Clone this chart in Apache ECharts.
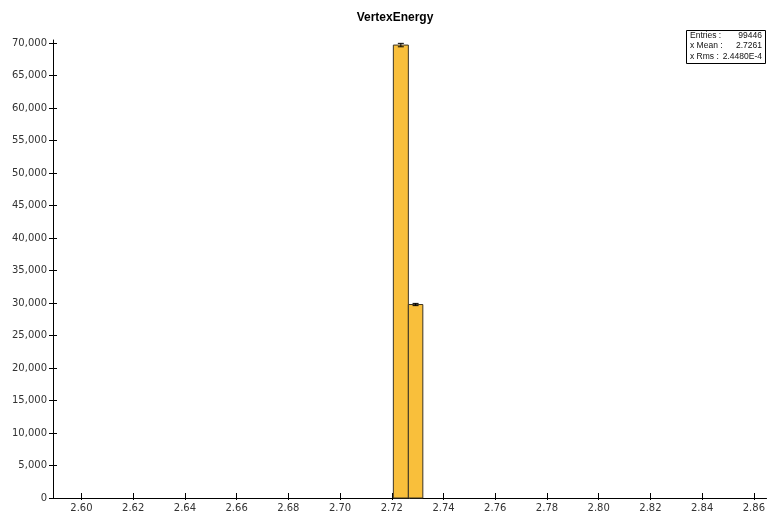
<!DOCTYPE html>
<html><head><meta charset="utf-8">
<script src="https://cdn.jsdelivr.net/npm/echarts@6/dist/echarts.min.js"></script>
<style>html,body{margin:0;padding:0;background:#fff}#c{width:768px;height:519px}</style>
</head><body><div id="c"></div>
<script>
const title = 'VertexEnergy';
const binLow = [2.7206, 2.7264];
const binHigh = [2.7264, 2.7320];
const counts = [69680, 29766];
const xTicks = [2.60, 2.62, 2.64, 2.66, 2.68, 2.70, 2.72, 2.74, 2.76, 2.78, 2.80, 2.82, 2.84, 2.86];
const yTicks = [0, 5000, 10000, 15000, 20000, 25000, 30000, 35000, 40000, 45000, 50000, 55000, 60000, 65000, 70000];
const statsLabels = ['Entries :', 'x Mean :', 'x Rms :'];
const statsValues = ['99446', '2.7261', '2.4480E-4'];

const barData = counts.map((c, i) => [binLow[i], binHigh[i], c]);
const chart = echarts.init(document.getElementById('c'));
const FONT = 'DejaVu Sans';
const yFmt = v => v.toLocaleString('en-US');
const XMIN = 2.5890, XMAX = 2.8649, YMAX = 70460;
chart.setOption({
  animation: false,
  title: { text: title, left: 390, textAlign: 'center', top: 7,
    textStyle: { fontFamily: 'Liberation Sans', fontWeight: 'bold', fontSize: 12, color: '#000' } },
  grid: { left: 53, right: 1, top: 40, bottom: 21 },
  xAxis: [{
    type: 'value', min: XMIN, max: XMAX,
    axisLine: { lineStyle: { color: '#000', width: 1 } },
    axisTick: { inside: true, length: 5, customValues: xTicks, lineStyle: { color: '#000' } },
    axisLabel: { customValues: xTicks, formatter: v => v.toFixed(2), fontFamily: FONT, fontSize: 10, color: '#333', margin: 5 },
    splitLine: { show: false }
  }, {
    type: 'value', min: XMIN, max: XMAX, position: 'bottom',
    axisLine: { show: false },
    axisTick: { show: true, inside: false, length: 2, customValues: xTicks, lineStyle: { color: '#000' } },
    axisLabel: { show: false },
    splitLine: { show: false }
  }],
  yAxis: [{
    type: 'value', min: 0, max: YMAX,
    axisLine: { show: true, lineStyle: { color: '#000', width: 1 } },
    axisTick: { show: true, inside: false, length: 4, customValues: yTicks, lineStyle: { color: '#000' } },
    axisLabel: { customValues: yTicks, formatter: yFmt, fontFamily: FONT, fontSize: 10, color: '#333', margin: 6 },
    splitLine: { show: false }
  }, {
    type: 'value', min: 0, max: YMAX, position: 'left',
    axisLine: { show: false },
    axisTick: { show: true, inside: true, length: 4, customValues: yTicks, lineStyle: { color: '#000' } },
    axisLabel: { show: false },
    splitLine: { show: false }
  }],
  series: [{
    type: 'custom',
    data: barData,
    renderItem: (params, api) => {
      const lo = api.coord([api.value(0), 0]);
      const hi = api.coord([api.value(1), api.value(2)]);
      const err = Math.sqrt(api.value(2));
      const cx = (lo[0] + hi[0]) / 2;
      const eTop = api.coord([0, api.value(2) + err])[1];
      const eBot = api.coord([0, api.value(2) - err])[1];
      return { type: 'group', children: [
        { type: 'rect', shape: { x: lo[0], y: hi[1], width: hi[0] - lo[0], height: lo[1] - hi[1] },
          style: { fill: '#F9BF3B', stroke: '#3d3525', lineWidth: 1 } },
        { type: 'line', shape: { x1: cx, y1: eTop, x2: cx, y2: eBot }, style: { stroke: '#000', lineWidth: 1 } },
        { type: 'line', shape: { x1: cx - 3, y1: eTop, x2: cx + 3, y2: eTop }, style: { stroke: '#000', lineWidth: 1 } },
        { type: 'line', shape: { x1: cx - 3, y1: eBot, x2: cx + 3, y2: eBot }, style: { stroke: '#000', lineWidth: 1 } }
      ]};
    }
  }],
  graphic: [
    { type: 'rect', left: 686, top: 30, shape: { width: 79, height: 33 },
      style: { fill: '#fff', stroke: '#000', lineWidth: 1 } },
    ...statsLabels.map((t, i) => ({ type: 'text', left: 690, top: 31 + i * 10.5,
      style: { text: t, font: '8.5px "Liberation Sans"', fill: '#111' } })),
    ...statsValues.map((t, i) => ({ type: 'text', right: 6, top: 31 + i * 10.5,
      style: { text: t, font: '8.5px "Liberation Sans"', fill: '#111' } }))
  ]
});
</script></body></html>
